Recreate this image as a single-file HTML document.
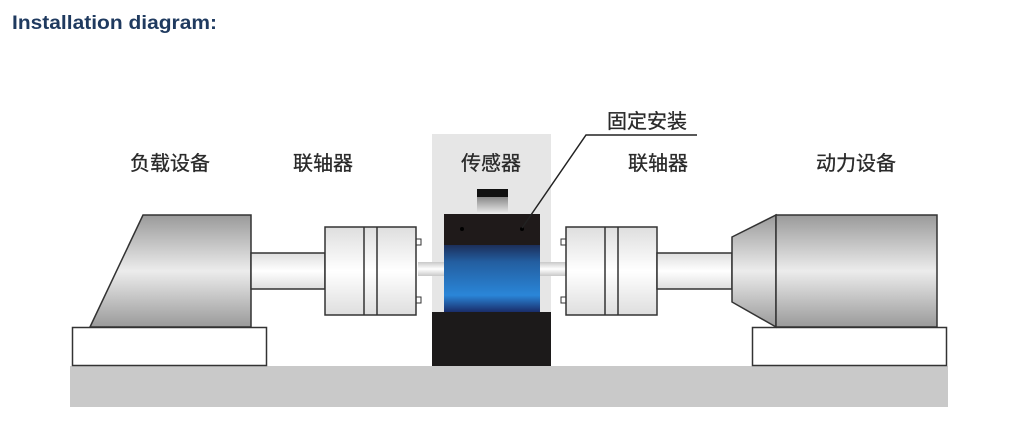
<!DOCTYPE html>
<html><head><meta charset="utf-8"><style>
html,body{margin:0;padding:0;background:#fff;width:1024px;height:430px;overflow:hidden}
svg{display:block}
.cn{font-family:"Liberation Sans","Noto Sans CJK SC",sans-serif;font-size:20px;fill:#2a2a2a;text-anchor:middle;stroke:#2a2a2a;stroke-width:0.3}
</style></head><body>
<svg width="1024" height="430" viewBox="0 0 1024 430">
<defs>
<linearGradient id="g1" x1="0" y1="0" x2="0" y2="1">
<stop offset="0" stop-color="#9a9a9a"/><stop offset="0.5" stop-color="#ececec"/><stop offset="1" stop-color="#9a9a9a"/>
</linearGradient>
<linearGradient id="g2" x1="0" y1="0" x2="0" y2="1">
<stop offset="0" stop-color="#dedede"/><stop offset="0.5" stop-color="#ffffff"/><stop offset="1" stop-color="#dedede"/>
</linearGradient>
<linearGradient id="gb" x1="0" y1="0" x2="0" y2="1">
<stop offset="0" stop-color="#1c2f5a"/><stop offset="0.25" stop-color="#235ea0"/><stop offset="0.75" stop-color="#2a86d8"/><stop offset="1" stop-color="#1a2d6a"/>
</linearGradient>
<linearGradient id="gs" x1="0" y1="0" x2="0" y2="1">
<stop offset="0" stop-color="#c8c8c8"/><stop offset="0.5" stop-color="#ffffff"/><stop offset="1" stop-color="#c8c8c8"/>
</linearGradient>
<linearGradient id="gc" x1="0" y1="0" x2="0" y2="1">
<stop offset="0" stop-color="#888"/><stop offset="1" stop-color="#f4f4f4"/>
</linearGradient>
</defs>
<text x="12" y="29" font-family="Liberation Sans, sans-serif" font-weight="bold" font-size="19" fill="#1f3a5f" textLength="205" lengthAdjust="spacingAndGlyphs">Installation diagram:</text>

<rect x="70" y="366" width="878" height="41" fill="#c9c9c9"/>
<rect x="432" y="134" width="119" height="232" fill="#e6e6e6"/>

<rect x="72.5" y="327.5" width="194" height="38" fill="#fff" stroke="#333" stroke-width="1.5"/>
<polygon points="90,327 143,215 251,215 251,327" fill="url(#g1)" stroke="#333" stroke-width="1.5"/>
<rect x="251" y="253" width="74" height="36" fill="url(#g2)" stroke="#333" stroke-width="1.5"/>
<rect x="416" y="239" width="5" height="6" fill="#fff" stroke="#333"/>
<rect x="416" y="297" width="5" height="6" fill="#fff" stroke="#333"/>
<rect x="325" y="227" width="91" height="88" fill="url(#g2)" stroke="#333" stroke-width="1.5"/>
<line x1="364" y1="227" x2="364" y2="315" stroke="#333" stroke-width="1.5"/>
<line x1="377" y1="227" x2="377" y2="315" stroke="#333" stroke-width="1.5"/>

<rect x="418" y="262" width="148" height="14" fill="url(#gs)"/>

<rect x="477" y="197" width="31" height="18" fill="url(#gc)"/>
<rect x="477" y="189" width="31" height="8" fill="#111"/>
<rect x="444" y="214" width="96" height="32" fill="#1f1a1a"/>
<rect x="444" y="245" width="96" height="67" fill="url(#gb)"/>
<rect x="432" y="312" width="119" height="54" fill="#1c1a1a"/>
<circle cx="462" cy="229" r="2" fill="#000"/>
<circle cx="522" cy="229" r="2" fill="#000"/>
<polyline points="522,228 586,135 697,135" fill="none" stroke="#222" stroke-width="1.5"/>

<rect x="561" y="239" width="5" height="6" fill="#fff" stroke="#333"/>
<rect x="561" y="297" width="5" height="6" fill="#fff" stroke="#333"/>
<rect x="566" y="227" width="91" height="88" fill="url(#g2)" stroke="#333" stroke-width="1.5"/>
<line x1="605" y1="227" x2="605" y2="315" stroke="#333" stroke-width="1.5"/>
<line x1="618" y1="227" x2="618" y2="315" stroke="#333" stroke-width="1.5"/>
<rect x="657" y="253" width="75" height="36" fill="url(#g2)" stroke="#333" stroke-width="1.5"/>
<rect x="752.5" y="327.5" width="194" height="38" fill="#fff" stroke="#333" stroke-width="1.5"/>
<polygon points="732,237 776,215 776,327 732,302" fill="url(#g1)" stroke="#333" stroke-width="1.5"/>
<rect x="776" y="215" width="161" height="112" fill="url(#g1)" stroke="#333" stroke-width="1.5"/>

<text class="cn" x="170" y="170">负载设备</text>
<text class="cn" x="323" y="170">联轴器</text>
<text class="cn" x="491" y="170">传感器</text>
<text class="cn" x="658" y="170">联轴器</text>
<text class="cn" x="856" y="170">动力设备</text>
<text class="cn" x="647" y="128">固定安装</text>
</svg>
</body></html>
